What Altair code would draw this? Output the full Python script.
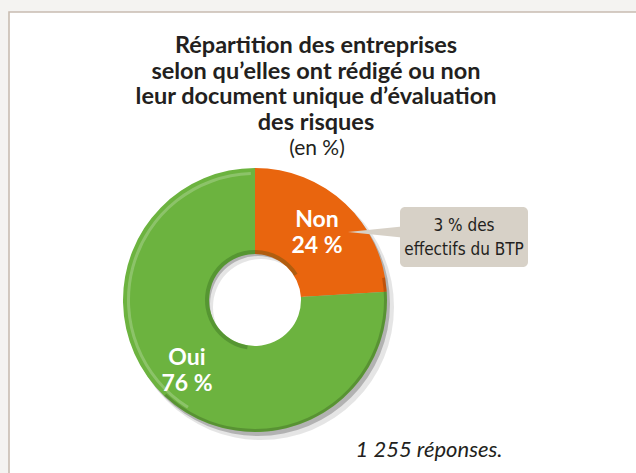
import altair as alt
import pandas as pd

# ---- data ----
categories = ["Non", "Oui"]
shares = [24, 76]
slice_colors = ["#e9650e", "#6cb33f"]
title_lines = [
    "Répartition des entreprises",
    "selon qu’elles ont rédigé ou non",
    "leur document unique d’évaluation",
    "des risques",
]
subtitle = "(en %)"
callout_lines = ["3 % des", "effectifs du BTP"]
note = "1 255 réponses."

df = pd.DataFrame({"cat": categories, "share": shares, "order": list(range(len(categories)))})

CX, CY = 255, 300
R_OUT, R_IN = 132, 46
one = alt.Data(values=[{}])

theta = alt.Theta("share:Q", stack=True)
color = alt.Color("cat:N", scale=alt.Scale(domain=categories, range=slice_colors), legend=None)
order = alt.Order("order:Q")

border = alt.Chart(one).mark_rect(fill="white", stroke="#c8bcb1", strokeWidth=1.6).encode(
    x=alt.value(9), x2=alt.value(720), y=alt.value(12), y2=alt.value(560)
)

shadow1 = alt.Chart(one).mark_arc(theta=0, theta2=6.2832, radius=R_OUT + 1, innerRadius=R_IN + 2,
                                 color="#000000", opacity=0.10).encode(
    x=alt.value(CX + 6), y=alt.value(CY + 7))
shadow2 = alt.Chart(one).mark_arc(theta=0, theta2=6.2832, radius=R_OUT, innerRadius=R_IN + 2,
                                 color="#000000", opacity=0.22).encode(
    x=alt.value(CX + 3), y=alt.value(CY + 4))

donut = alt.Chart(df).mark_arc(radius=R_OUT, innerRadius=R_IN).encode(
    theta=theta, color=color, order=order, x=alt.value(CX), y=alt.value(CY)
)

inner_rim = alt.Chart(one).mark_arc(theta=3.3, theta2=7.3, radius=R_IN + 4, innerRadius=R_IN,
                                   color="#1d4d12", opacity=0.28).encode(
    x=alt.value(CX), y=alt.value(CY))
highlight = alt.Chart(one).mark_arc(theta=3.7, theta2=6.25, radius=R_OUT - 4, innerRadius=R_OUT - 7,
                                   color="#ffffff", opacity=0.22).encode(
    x=alt.value(CX), y=alt.value(CY))
dark_edge = alt.Chart(one).mark_arc(theta=1.4, theta2=3.9, radius=R_OUT, innerRadius=R_OUT - 3,
                                   color="#000000", opacity=0.18).encode(
    x=alt.value(CX), y=alt.value(CY))

labels = alt.Chart(df).transform_calculate(
    label="datum.cat + '\\n' + datum.share + ' %'"
).mark_text(radius=95, dy=-11, font="Lato", fontSize=23, fontWeight="bold", color="white",
            lineBreak="\n", lineHeight=26, align="center", baseline="middle").encode(
    theta=theta, order=order, text="label:N", x=alt.value(CX - 3), y=alt.value(CY)
)

pointer = alt.Chart(one).mark_point(
    shape="M -1 0 L 1 -0.2 L 1 0.2 Z", size=2916, filled=True, fill="#d7d1c7",
    opacity=1).encode(x=alt.value(375), y=alt.value(232))

box = alt.Chart(one).mark_rect(fill="#d7d1c7", cornerRadius=5).encode(
    x=alt.value(400), x2=alt.value(528), y=alt.value(207), y2=alt.value(267)
)


def txt(s, x, y, size, weight="normal", style="normal", font="Lato", color="#231f20"):
    return alt.Chart(one).mark_text(
        text=s, font=font, fontSize=size, fontWeight=weight, fontStyle=style,
        color=color, align="center", baseline="alphabetic"
    ).encode(x=alt.value(x), y=alt.value(y))


layers = [border, shadow1, shadow2, donut, inner_rim, highlight, dark_edge, labels, pointer, box]
for i, s in enumerate(callout_lines):
    layers.append(txt(s, 464, 231 + 24 * i, 17, font="DejaVu Sans Condensed, Lato"))
for i, s in enumerate(title_lines):
    layers.append(txt(s, 316, 53 + 25.5 * i, 23.5, weight="bold"))
layers.append(txt(subtitle, 317, 155, 21))
layers.append(txt(note, 429, 457, 22, style="italic"))

chart = alt.layer(*layers).properties(
    width=636, height=473, padding=0, autosize="none", background="#f4f3f1"
).configure_view(stroke=None)

chart.save("out.html", embed_options={"renderer": "svg", "actions": False})
